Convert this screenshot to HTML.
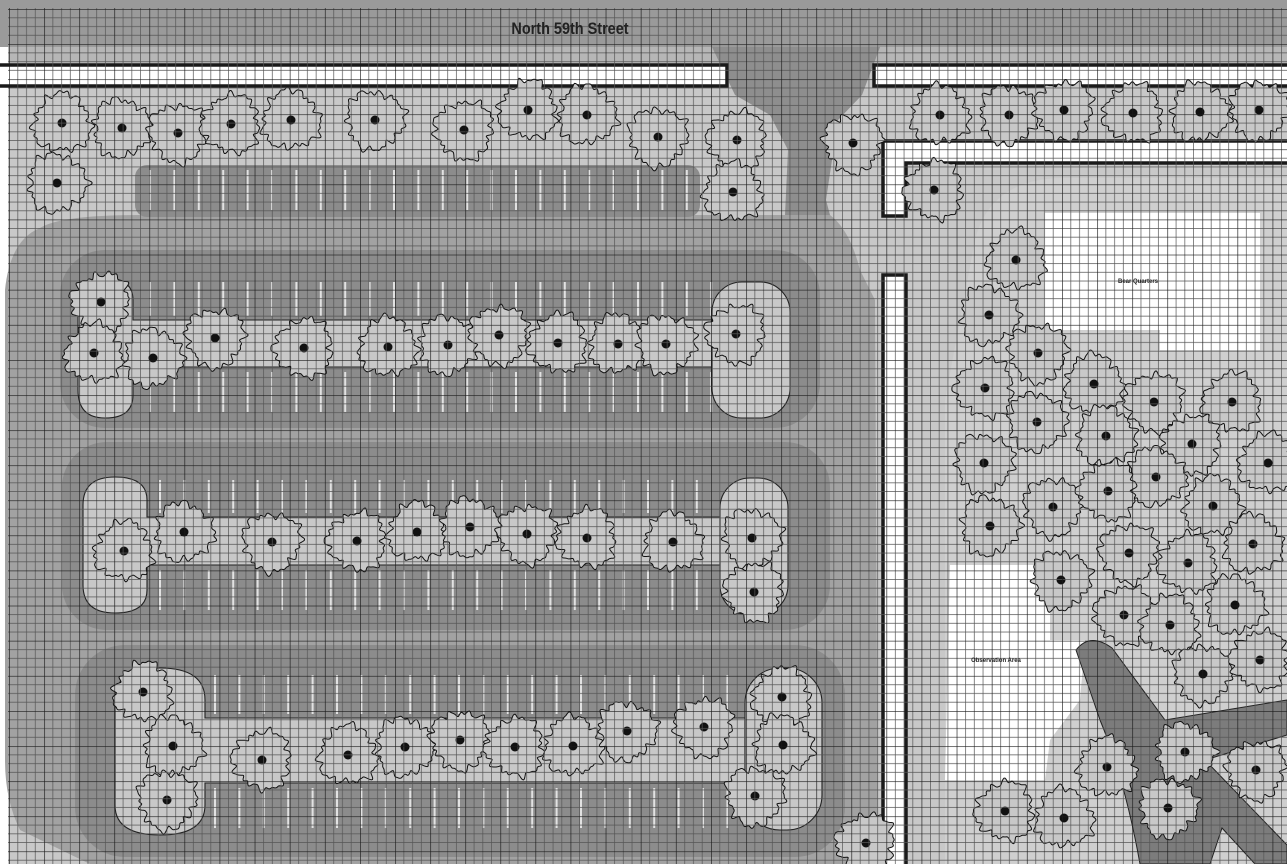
<!DOCTYPE html>
<html><head><meta charset="utf-8"><style>
html,body{margin:0;padding:0;background:#fff}
svg{display:block}
</style></head><body>
<svg id="s" width="1287" height="864" viewBox="0 0 1287 864" xmlns="http://www.w3.org/2000/svg">
<defs>
<pattern id="grid" x="9" y="9" width="35.1" height="35.1" patternUnits="userSpaceOnUse">
<path d="M8.775 0V35.1M17.55 0V35.1M26.325 0V35.1M0 8.775H35.1M0 17.55H35.1M0 26.325H35.1" stroke="#555" stroke-width="0.7" fill="none"/>
<path d="M0 0V35.1M0 0H35.1" stroke="#1a1a1a" stroke-width="1.3" fill="none"/>
</pattern>
</defs>
<rect width="1287" height="864" fill="#c8c8c8"/>
<rect x="0" y="0" width="1287" height="47" fill="#9a9a9a"/>
<rect x="0" y="47" width="8" height="817" fill="#fff"/>
<rect x="8" y="47" width="1279" height="16" fill="#b6b6b6"/>
<path d="M712 47 L880 47 L862 95 L838 120 L826 200 L830 215 L785 215 L788 150 L770 115 L735 95 Z" fill="#8e8e8e"/>
<path d="M40 228 Q60 215 140 215 L830 215 Q850 230 860 270 L875 300 L878 864 L90 864 L20 830 Q5 800 5 760 L5 290 Q10 240 40 228 Z" fill="#a2a2a2"/>
<rect x="135" y="165" width="565" height="52" rx="12" fill="#8c8c8c"/>
<rect x="60" y="250" width="760" height="178" rx="45" fill="#8c8c8c"/>
<rect x="62" y="442" width="768" height="188" rx="45" fill="#8c8c8c"/>
<rect x="75" y="645" width="770" height="212" rx="50" fill="#8c8c8c"/>
<g id="stripes" stroke="#e2e2e2" stroke-width="2"></g>
<g fill="#c8c8c8" stroke="#222" stroke-width="1.1">
<path d="M133 320 L133 300 Q133 278 105 278 Q78 278 78 305 L78 390 Q78 418 105 418 Q133 418 133 395 L133 367 L712 367 L712 320 Z"/>
<rect x="712" y="282" width="78" height="136" rx="30"/>
<path d="M147 517 L147 500 Q147 477 115 477 Q83 477 83 505 L83 585 Q83 613 115 613 Q147 613 147 590 L147 565 L720 565 L720 517 Z"/>
<rect x="720" y="478" width="68" height="137" rx="30"/>
<path d="M205 718 L205 700 Q205 668 160 668 Q115 668 115 700 L115 805 Q115 835 160 835 Q205 835 205 805 L205 783 L745 783 L745 718 Z"/>
<rect x="745" y="668" width="77" height="162" rx="35"/>
</g>
<path d="M975 240 Q990 180 1060 178 L1287 178 L1287 864 L945 864 L945 400 Z" fill="#cfcfcf"/>
<path d="M1045 213 L1260 213 L1260 350 L1160 350 L1160 330 L1045 330 Z" fill="#fff"/>
<path d="M950 565 L1050 565 L1050 640 L1085 640 L1080 700 L1050 740 L1045 780 L945 780 Z" fill="#fff"/>
<path d="M1076 650 Q1090 632 1112 648 L1165 720 L1287 700 L1287 735 L1205 760 L1287 845 L1287 864 L1255 864 L1222 828 L1210 864 L1140 864 Q1125 780 1100 720 Z" fill="#7c7c7c" stroke="#222" stroke-width="1"/>
<g fill="#fff" stroke="#1a1a1a" stroke-width="3.5">
<path d="M0 65 L727 65 L727 86 L0 86"/>
<path d="M1287 65 L874 65 L874 86 L1287 86"/>
<path d="M1287 141 L883 141 L883 216 L906 216 L906 163 L1287 163"/>
<path d="M883 864 L883 275 L906 275 L906 864"/>
</g>
<g id="trees"></g>
<rect x="8" y="8" width="1279" height="856" fill="url(#grid)"/>
<text x="570" y="34" text-anchor="middle" font-family="Liberation Sans, sans-serif" font-weight="bold" font-size="17" fill="#222" transform="translate(570 0) scale(0.85 1) translate(-570 0)">North 59th Street</text>
<text x="1138" y="283" text-anchor="middle" font-family="Liberation Sans, sans-serif" font-weight="bold" font-size="6" fill="#222">Bear Quarters</text>
<text x="996" y="662" text-anchor="middle" font-family="Liberation Sans, sans-serif" font-weight="bold" font-size="6" fill="#222">Observation Area</text>
</svg>
<script>
var NS="http://www.w3.org/2000/svg";
var st=document.getElementById("stripes");
function stripes(x0,x1,y0,y1){for(var x=x0;x<x1;x+=24.4){var l=document.createElementNS(NS,"line");l.setAttribute("x1",x);l.setAttribute("x2",x);l.setAttribute("y1",y0);l.setAttribute("y2",y1);st.appendChild(l);}}
stripes(150,700,170,210);
stripes(150,712,282,316);stripes(150,712,372,412);
stripes(160,720,480,513);stripes(160,720,570,610);
stripes(215,745,675,714);stripes(215,745,788,828);
var T=[[62,123],[122,128],[178,133],[231,124],[291,120],[375,120],[464,130],[528,110],[587,115],[658,137],[737,140],[733,192],[57,183],[853,143],[934,190],[940,115],[1009,115],[1064,110],[1133,113],[1200,112],[1259,110],
[101,302],[94,353],[153,358],[215,338],[304,348],[388,347],[448,345],[499,335],[558,343],[618,344],[666,344],[736,334],
[124,551],[184,532],[272,542],[357,541],[417,532],[470,527],[527,534],[587,538],[673,542],[752,538],[754,592],
[143,692],[173,746],[167,800],[262,760],[348,755],[405,747],[460,740],[515,747],[573,746],[627,731],[704,727],[782,697],[783,745],[755,796],[866,843],
[1016,260],[989,315],[1038,353],[985,388],[1094,384],[1037,422],[1154,402],[1232,402],[1106,436],[984,463],[1192,444],[1268,463],[1156,477],[1053,507],[1108,491],[1213,506],[990,526],[1129,553],[1188,563],[1253,544],[1061,580],[1124,615],[1170,625],[1235,605],[1203,674],[1260,660],[1107,767],[1185,752],[1256,770],[1005,811],[1064,818],[1168,808]];
var g=document.getElementById("trees");
T.forEach(function(t,i){var d="",N=200,ph=i*1.7;for(var k=0;k<=N;k++){var a=k/N*Math.PI*2;var r=28.5+2.2*Math.sin(3*a+ph)+2*Math.sin(11*a+ph*1.3)+1.5*Math.sin(17*a+ph*0.7)+1*Math.sin(26*a+ph);d+=(k?"L":"M")+(t[0]+r*Math.cos(a)).toFixed(1)+" "+(t[1]+r*Math.sin(a)).toFixed(1);}
var p=document.createElementNS(NS,"path");p.setAttribute("d",d+"Z");p.setAttribute("fill","#c8c8c8");p.setAttribute("stroke","#111");p.setAttribute("stroke-width","1");g.appendChild(p);
var c=document.createElementNS(NS,"circle");c.setAttribute("cx",t[0]);c.setAttribute("cy",t[1]);c.setAttribute("r",4.5);c.setAttribute("fill","#111");g.appendChild(c);});
</script>
</body></html>
